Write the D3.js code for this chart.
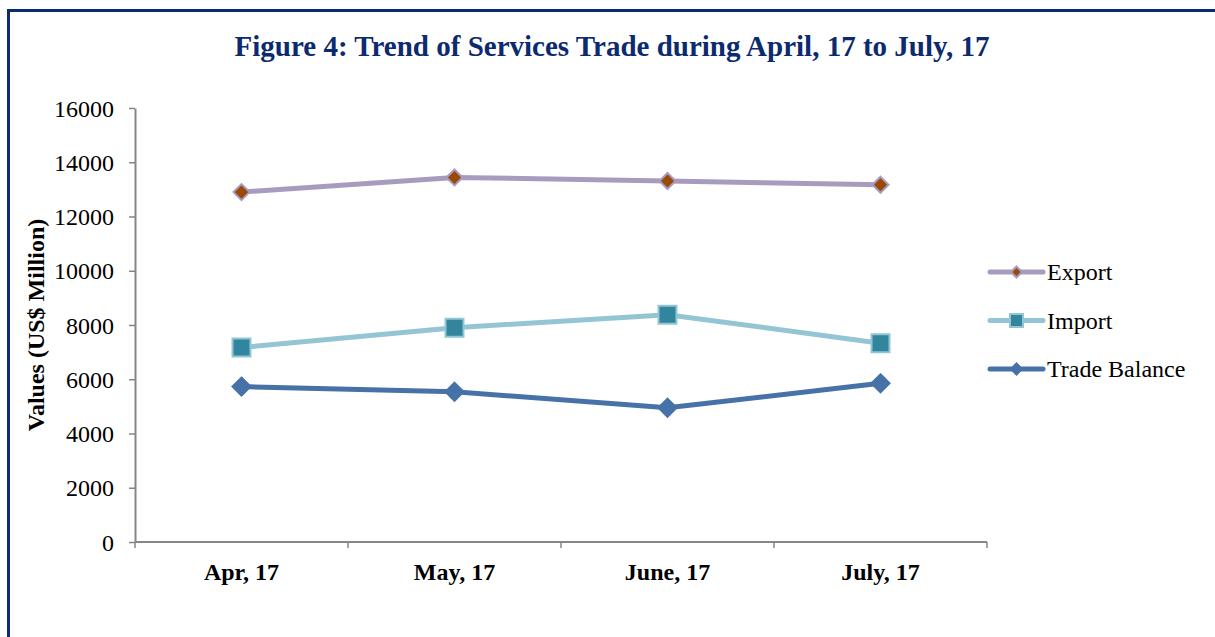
<!DOCTYPE html>
<html>
<head>
<meta charset="utf-8">
<script src="https://cdn.jsdelivr.net/npm/d3@7"></script>
<style>
  body { margin: 0; background: #fff; }
  text { font-family: "Liberation Serif", "Times New Roman", serif; }
</style>
</head>
<body>
<div id="chart"></div>
<script>
// data
const months = ["Apr, 17", "May, 17", "June, 17", "July, 17"];
const exportVals = [12900, 13440, 13310, 13170];
const importVals = [7170, 7900, 8380, 7330];
const balanceVals = [5730, 5540, 4950, 5850];
const yTicks = [0, 2000, 4000, 6000, 8000, 10000, 12000, 14000, 16000];

const width = 1215;
const height = 637;
const margin = { top: 108, left: 135, right: 228, bottom: 95 };

const series = [
    { name: "Export", values: exportVals, line: "#A89BC0", fill: "#9A4A05", stroke: "#A89BC0", shape: "diamond", size: 18 },
    { name: "Import", values: importVals, line: "#93C5D5", fill: "#31869D", stroke: "#93C5D5", shape: "square", size: 20 },
    { name: "Trade Balance", values: balanceVals, line: "#4672A8", fill: "#4672A8", stroke: "#4672A8", shape: "diamond", size: 20 }
];

const svg = d3.select("#chart").append("svg")
    .attr("width", width)
    .attr("height", height);

// frame
svg.append("line").attr("x1", 8.5).attr("x2", 8.5).attr("y1", 9).attr("y2", height)
    .attr("stroke", "#0B2A6F").attr("stroke-width", 3);
svg.append("line").attr("x1", 7).attr("x2", width).attr("y1", 10.5).attr("y2", 10.5)
    .attr("stroke", "#0B2A6F").attr("stroke-width", 3);

svg.append("text")
    .attr("x", 612).attr("y", 56)
    .attr("text-anchor", "middle")
    .attr("font-size", 29).attr("font-weight", "bold")
    .attr("fill", "#0B2A6F")
    .text("Figure 4: Trend of Services Trade during April, 17 to July, 17");

const x = d3.scaleBand().domain(months).range([margin.left, width - margin.right]);
const y = d3.scaleLinear().domain([0, 16000]).range([height - margin.bottom, margin.top]);

// y axis
const yAxisGroup = svg.append("g").attr("transform", `translate(${margin.left}, 0)`)
    .call(d3.axisLeft(y).tickValues(yTicks).tickSize(6).tickSizeOuter(0).tickFormat(d3.format("d")));
yAxisGroup.select(".domain").attr("stroke", "#868686").attr("stroke-width", 2);
yAxisGroup.selectAll(".tick line").attr("stroke", "#868686").attr("stroke-width", 1.5);
yAxisGroup.selectAll(".tick text")
    .attr("x", -21).attr("dy", "0.34em").attr("font-size", 24).attr("fill", "#000")
    .attr("font-family", "Liberation Serif, serif");

// x axis, ticks between the categories
const xAxisGroup = svg.append("g").attr("transform", `translate(0, ${y(0)})`);
xAxisGroup.append("line")
    .attr("x1", margin.left).attr("x2", width - margin.right)
    .attr("stroke", "#868686").attr("stroke-width", 2);
const edges = months.map(m => x(m)).concat([x(months[months.length - 1]) + x.bandwidth()]);
xAxisGroup.selectAll(".xt").data(edges).enter().append("line")
    .attr("x1", d => d).attr("x2", d => d).attr("y1", 0).attr("y2", 6)
    .attr("stroke", "#868686").attr("stroke-width", 1.5);
xAxisGroup.selectAll(".xl").data(months).enter().append("text")
    .attr("x", d => x(d) + x.bandwidth() / 2).attr("y", 38)
    .attr("text-anchor", "middle")
    .attr("font-size", 24).attr("font-weight", "bold")
    .text(d => d);

svg.append("text")
    .attr("transform", `translate(44, 325) rotate(-90)`)
    .attr("text-anchor", "middle")
    .attr("font-size", 24).attr("font-weight", "bold")
    .text("Values (US$ Million)");

function markerPath(shape, s) {
    const h = s / 2;
    if (shape === "square") return `M${-h},${-h}H${h}V${h}H${-h}Z`;
    return `M0,${-h}L${h},0L0,${h}L${-h},0Z`;
}

const line = d3.line()
    .x((d, i) => x(months[i]) + x.bandwidth() / 2)
    .y(d => y(d));

series.forEach(s => {
    svg.append("path")
        .datum(s.values)
        .attr("fill", "none")
        .attr("stroke", s.line)
        .attr("stroke-width", 5)
        .attr("stroke-linejoin", "round")
        .attr("d", line);
    svg.selectAll(null).data(s.values).enter().append("path")
        .attr("transform", (d, i) => `translate(${x(months[i]) + x.bandwidth() / 2}, ${y(d)})`)
        .attr("d", markerPath(s.shape, s.size - 2))
        .attr("fill", s.fill)
        .attr("stroke", s.stroke)
        .attr("stroke-width", 2);
});

// legend
const legend = svg.append("g").attr("transform", "translate(988, 272)");
series.forEach((s, i) => {
    const g = legend.append("g").attr("transform", `translate(0, ${i * 48.5})`);
    g.append("line").attr("x1", 2).attr("x2", 55)
        .attr("stroke", s.line).attr("stroke-width", 5).attr("stroke-linecap", "round");
    g.append("path")
        .attr("transform", "translate(28.5, 0)")
        .attr("d", markerPath(s.shape, s.shape === "square" ? 13 : 11))
        .attr("fill", s.fill).attr("stroke", s.stroke).attr("stroke-width", 2);
    g.append("text").attr("x", 59).attr("y", 8)
        .attr("font-size", 24).text(s.name);
});
</script>
</body>
</html>
